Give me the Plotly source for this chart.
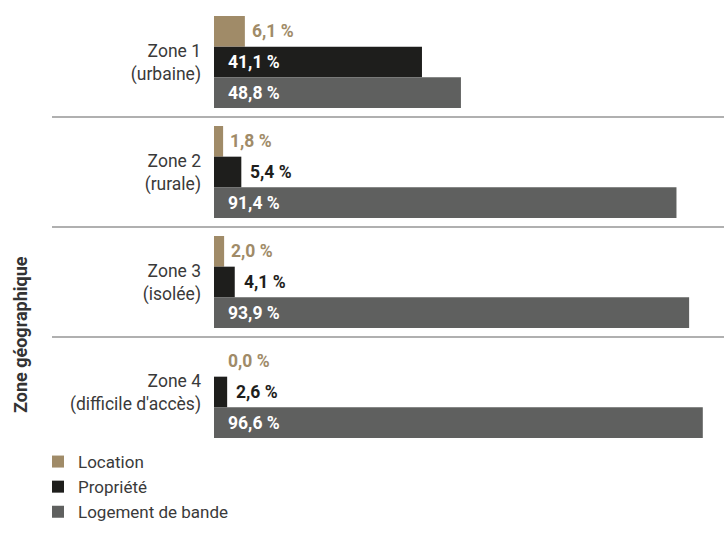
import plotly.graph_objects as go

zones = ["Zone 1<br>(urbaine)", "Zone 2<br>(rurale)", "Zone 3<br>(isolée)", "Zone 4<br>(difficile d'accès)"]
series_names = ["Location", "Propriété", "Logement de bande"]
location = [6.1, 1.8, 2.0, 0.0]
propriete = [41.1, 5.4, 4.1, 2.6]
logement = [48.8, 91.4, 93.9, 96.6]
colors = ["#a08b68", "#1e1e1c", "#5f605f"]
axis_title = "Zone géographique"

FONT = "Roboto"
W, H = 724, 557
ML, MR, MT, MB = 214, 4, 7, 110
BARGAP = 0.164

fig = go.Figure()
all_series = [location, propriete, logement]
for name, vals, col in zip(series_names, all_series, colors):
    fig.add_trace(go.Bar(
        y=list(range(len(zones))), x=vals, name=name, orientation="h",
        marker=dict(color=col, line=dict(width=0)), hoverinfo="skip",
    ))

def fmt(v):
    return f"{v:.1f}".replace(".", ",") + " %"

bw = (1 - BARGAP) / 3
annotations = []
for k, (vals, col) in enumerate(zip(all_series, colors)):
    for i, v in enumerate(vals):
        yy = i + (k - 1) * bw
        if k == 0:
            x, shift, tc = v, (5 if v > 0 else 12), colors[0]
        elif k == 1:
            if v > 20:
                x, shift, tc = 0, 12, "white"
            else:
                x, shift, tc = v, 7, "#1e1e1c"
        else:
            x, shift, tc = 0, 12, "white"
        annotations.append(dict(
            x=x, y=yy, xref="x", yref="y", text=fmt(v), showarrow=False,
            xanchor="left", yanchor="middle", xshift=shift,
            font=dict(family=FONT, size=17.5, color=tc, weight="bold"),
        ))

pw = W - ML - MR
ph = H - MT - MB
annotations.append(dict(
    x=(20 - ML) / pw, y=(H - MB - 335) / ph, xref="paper", yref="paper",
    text="<b>" + axis_title + "</b>", textangle=-90, showarrow=False,
    xanchor="center", yanchor="middle",
    font=dict(family=FONT, size=18, color="#333333"),
))

shapes = []
for b in [0.5, 1.5, 2.5]:
    shapes.append(dict(
        type="line", xref="paper", yref="y",
        x0=(52 - ML) / pw, x1=(W - ML) / pw, y0=b, y1=b,
        line=dict(color="#b0b0b0", width=2), layer="below",
    ))

fig.update_layout(
    width=W, height=H,
    margin=dict(l=ML, r=MR, t=MT, b=MB, pad=0),
    paper_bgcolor="white", plot_bgcolor="white",
    barmode="group", bargap=BARGAP, bargroupgap=0,
    xaxis=dict(range=[0, 100], visible=False, fixedrange=True),
    yaxis=dict(
        tickmode="array", tickvals=list(range(len(zones))), ticktext=zones,
        showgrid=False, zeroline=False,
        showline=False, ticks="", ticklabelstandoff=12,
        tickfont=dict(family=FONT, size=17.5, color="#3a3a3a"),
    ),
    legend=dict(
        orientation="v", x=(38 - ML) / pw, y=(H - MB - 444) / ph,
        xanchor="left", yanchor="top", traceorder="normal",
        font=dict(family=FONT, size=17, color="#3a3a3a"),
        itemclick=False, tracegroupgap=0, bgcolor="rgba(0,0,0,0)",
    ),
    annotations=annotations, shapes=shapes, showlegend=True,
)
fig.update_yaxes(range=[3.5, -0.5], autorange=False)

fig.write_html("out.html")
